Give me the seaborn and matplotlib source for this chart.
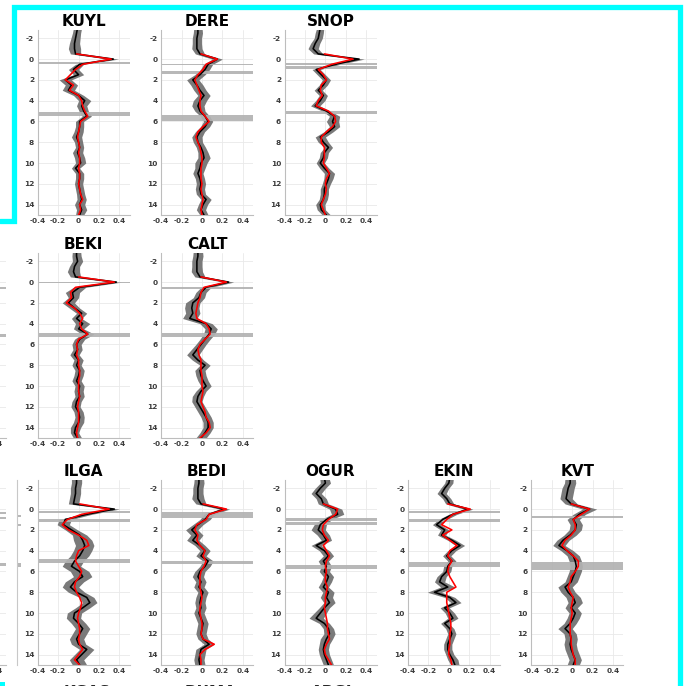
import matplotlib
matplotlib.use("Agg")
import matplotlib.pyplot as plt
import seaborn as sns
from matplotlib.lines import Line2D
from matplotlib.patches import Rectangle

sns.set_theme(style="white")
plt.rcParams["font.family"] = ["DejaVu Sans"]

# depth samples (s) for the stacked traces and for the model traces
DEPTH = [-3.0, -2.5, -2.0, -1.5, -1.0, -0.5, 0.0, 0.5, 1.0, 1.5, 2.0, 2.5,
         3.0, 3.5, 4.0, 4.5, 5.0, 5.5, 6.0, 6.5, 7.0, 7.5, 8.0, 8.5, 9.0,
         9.5, 10.0, 10.5, 11.0, 11.5, 12.0, 12.5, 13.0, 13.5, 14.0, 14.5, 15.0]
MODEL_DEPTH = [-0.5, 0.0, 0.5, 1.0, 1.5, 2.0, 2.5, 3.0, 3.5, 4.0, 4.5, 5.0,
               5.5, 6.0, 6.5, 7.0, 7.5, 8.0, 8.5, 9.0, 9.5, 10.0, 10.5, 11.0,
               11.5, 12.0, 12.5, 13.0, 13.5, 14.0, 14.5, 15.0]

X_TICKS = [-0.4, -0.2, 0.0, 0.2, 0.4]
X_TICK_LABELS = ["-0.4", "-0.2", "0", "0.2", "0.4"]
Y_TICKS = [-2, 0, 2, 4, 6, 8, 10, 12, 14]
Y_TICK_LABELS = ["-2", "0", "2", "4", "6", "8", "10", "12", "14"]

# ---- KUYL
kuyl_mean = [-0.01, -0.02, -0.03, -0.04, -0.04, -0.03, 0.34, 0.01, -0.05, 0.0, -0.13, -0.07,
             -0.10, 0.0, 0.06, 0.03, 0.05, 0.08, 0.01, 0.01, 0.0, -0.02, 0.0, 0.01, -0.01,
             0.01, 0.02, -0.03, 0.01, 0.01, 0.0, 0.01, 0.02, 0.03, 0.01, 0.03, 0.01]
kuyl_std = [0.04, 0.04, 0.045, 0.05, 0.06, 0.05, 0.05, 0.04, 0.05, 0.05, 0.06, 0.06,
            0.06, 0.05, 0.06, 0.05, 0.045, 0.045, 0.04, 0.04, 0.045, 0.05, 0.04, 0.04, 0.05,
            0.05, 0.05, 0.04, 0.04, 0.04, 0.04, 0.04, 0.04, 0.045, 0.05, 0.05, 0.04]
kuyl_model = [-0.02, 0.32, 0.04, -0.03, -0.08, -0.13, -0.05, -0.09, 0.0, 0.03, 0.04, 0.06,
              0.09, 0.02, 0.01, 0.0, -0.01, 0.0, 0.01, 0.0, 0.01, 0.01, 0.0, 0.01,
              0.01, 0.0, 0.01, 0.02, 0.04, 0.01, 0.02, 0.0]
kuyl_layers = [(0.3, 0.5), (5.1, 5.45)]

# ---- DERE
dere_mean = [-0.04, -0.04, -0.05, -0.05, -0.05, -0.02, 0.15, 0.06, 0.03, -0.02, -0.09, -0.05,
             -0.02, 0.02, -0.02, -0.04, -0.02, 0.03, 0.06, 0.03, -0.02, -0.05, -0.04, -0.01, 0.01,
             0.02, -0.01, -0.02, -0.04, -0.02, -0.01, -0.02, -0.01, 0.04, 0.01, -0.01, 0.02]
dere_std = [0.04, 0.045, 0.045, 0.045, 0.05, 0.045, 0.05, 0.045, 0.045, 0.05, 0.06, 0.06,
            0.06, 0.06, 0.065, 0.06, 0.05, 0.045, 0.045, 0.045, 0.045, 0.05, 0.045, 0.045, 0.05,
            0.06, 0.06, 0.05, 0.05, 0.045, 0.045, 0.045, 0.045, 0.05, 0.045, 0.045, 0.04]
dere_model = [-0.01, 0.15, 0.04, 0.01, -0.04, -0.07, -0.05, -0.03, -0.01, -0.02, -0.02, -0.01,
              0.03, 0.07, 0.01, -0.04, -0.06, -0.04, -0.02, -0.01, 0.0, 0.0, -0.01, -0.01,
              -0.01, 0.0, -0.01, 0.0, 0.01, 0.0, -0.01, 0.0]
dere_layers = [(0.45, 0.6), (1.15, 1.45), (5.4, 6.0)]

# ---- SNOP
snop_mean = [-0.05, -0.06, -0.07, -0.10, -0.12, -0.07, 0.33, 0.10, -0.09, -0.04, 0.01, -0.02,
             -0.07, -0.02, -0.05, -0.10, 0.01, 0.09, 0.07, 0.09, 0.03, -0.05, -0.02, 0.03, -0.01,
             -0.02, -0.05, -0.01, 0.04, 0.03, 0.01, -0.01, -0.01, -0.02, -0.05, -0.04, 0.01]
snop_std = [0.035, 0.04, 0.04, 0.045, 0.05, 0.045, 0.05, 0.045, 0.04, 0.04, 0.04, 0.04,
            0.04, 0.04, 0.045, 0.045, 0.04, 0.05, 0.06, 0.05, 0.045, 0.05, 0.05, 0.04, 0.04,
            0.04, 0.04, 0.045, 0.05, 0.045, 0.04, 0.04, 0.04, 0.04, 0.045, 0.04, 0.04]
snop_model = [-0.01, 0.27, 0.06, -0.07, -0.02, 0.01, -0.04, -0.05, -0.03, -0.07, -0.09, 0.03,
              0.09, 0.10, 0.07, 0.01, -0.04, -0.04, -0.01, -0.01, -0.01, -0.02, 0.01, 0.04,
              0.01, 0.0, 0.01, 0.0, -0.02, -0.04, -0.02, 0.0]
snop_layers = [(0.4, 0.6), (0.7, 0.95), (5.0, 5.3)]

# ---- BEKI
beki_mean = [-0.02, -0.02, -0.01, -0.04, -0.05, -0.03, 0.37, 0.01, -0.06, -0.05, -0.10, -0.04,
             0.03, -0.02, 0.04, 0.0, 0.09, 0.01, -0.02, -0.01, -0.04, 0.0, -0.02, 0.01, 0.0,
             -0.02, 0.01, 0.0, 0.01, -0.02, -0.03, 0.0, 0.01, 0.0, -0.03, -0.04, -0.01]
beki_std = [0.04, 0.045, 0.05, 0.05, 0.06, 0.05, 0.05, 0.06, 0.07, 0.05, 0.06, 0.05,
            0.05, 0.05, 0.07, 0.05, 0.06, 0.05, 0.045, 0.045, 0.045, 0.045, 0.045, 0.045, 0.045,
            0.045, 0.045, 0.045, 0.045, 0.045, 0.045, 0.045, 0.045, 0.05, 0.05, 0.04, 0.04]
beki_model = [0.0, 0.35, -0.03, -0.08, -0.07, -0.12, -0.04, 0.01, 0.04, 0.01, 0.03, 0.09,
              0.0, -0.02, -0.01, -0.02, 0.0, 0.0, 0.01, 0.01, 0.0, 0.0, 0.0, 0.01,
              0.0, -0.01, 0.0, 0.0, 0.0, -0.01, -0.02, -0.01]
beki_layers = [(-0.05, 0.12), (4.9, 5.25)]

# ---- CALT
calt_mean = [-0.04, -0.04, -0.05, -0.05, -0.05, -0.02, 0.26, 0.04, -0.01, -0.03, -0.09, -0.10,
             -0.09, -0.12, 0.04, 0.09, 0.07, 0.03, -0.01, -0.05, -0.09, -0.04, 0.03, -0.02, -0.01,
             0.01, 0.04, -0.01, -0.04, -0.05, -0.02, 0.01, 0.04, 0.06, 0.06, 0.03, -0.01]
calt_std = [0.045, 0.05, 0.05, 0.05, 0.055, 0.05, 0.05, 0.05, 0.05, 0.055, 0.07, 0.07,
            0.07, 0.07, 0.06, 0.06, 0.055, 0.05, 0.05, 0.055, 0.06, 0.055, 0.05, 0.05, 0.05,
            0.05, 0.05, 0.05, 0.055, 0.05, 0.05, 0.05, 0.05, 0.05, 0.05, 0.05, 0.05]
calt_model = [-0.01, 0.24, 0.02, -0.01, -0.02, -0.04, -0.05, -0.06, -0.05, 0.04, 0.07, 0.08,
              0.03, -0.02, -0.04, -0.03, -0.01, -0.01, -0.01, 0.0, 0.0, 0.0, 0.01, 0.0,
              -0.01, 0.01, 0.03, 0.04, 0.07, 0.08, 0.04, -0.02]
calt_layers = [(0.45, 0.65), (4.85, 5.3)]

# ---- ILGA
ilga_mean = [-0.02, -0.02, -0.03, -0.03, -0.04, -0.05, 0.35, 0.08, -0.13, -0.15, -0.07, 0.01,
             0.04, 0.06, 0.04, 0.01, -0.04, -0.07, 0.01, 0.04, -0.04, -0.08, -0.02, 0.08, 0.11,
             0.04, -0.04, -0.05, 0.0, 0.04, 0.01, -0.02, 0.0, 0.08, 0.03, -0.02, 0.01]
ilga_std = [0.05, 0.05, 0.05, 0.05, 0.05, 0.05, 0.05, 0.05, 0.06, 0.06, 0.06, 0.07,
            0.09, 0.09, 0.09, 0.09, 0.09, 0.09, 0.09, 0.09, 0.09, 0.08, 0.08, 0.07, 0.07,
            0.07, 0.07, 0.07, 0.07, 0.07, 0.07, 0.07, 0.07, 0.07, 0.07, 0.07, 0.07]
ilga_model = [0.01, 0.30, 0.03, -0.11, -0.16, -0.10, 0.0, 0.08, 0.10, 0.0, -0.02, -0.03,
              0.0, 0.03, 0.01, -0.03, -0.04, -0.02, 0.01, 0.03, 0.02, 0.0, -0.01, 0.0,
              0.01, 0.01, 0.0, 0.01, 0.04, 0.0, -0.04, 0.01]
ilga_layers = [(0.2, 0.4), (1.0, 1.25), (4.8, 5.2)]

# ---- BEDI
bedi_mean = [-0.03, -0.03, -0.04, -0.04, -0.04, -0.01, 0.22, 0.07, 0.03, -0.04, -0.10, -0.05,
             -0.09, -0.02, 0.03, -0.01, 0.06, 0.03, -0.02, -0.04, -0.01, -0.03, 0.01, -0.01, -0.02,
             -0.01, -0.03, -0.01, 0.01, 0.0, -0.01, 0.01, 0.07, -0.01, -0.02, -0.03, -0.02]
bedi_std = [0.045, 0.05, 0.05, 0.05, 0.06, 0.05, 0.05, 0.05, 0.05, 0.05, 0.06, 0.06,
            0.06, 0.05, 0.05, 0.05, 0.05, 0.05, 0.05, 0.055, 0.05, 0.05, 0.05, 0.05, 0.05,
            0.05, 0.05, 0.05, 0.05, 0.05, 0.05, 0.05, 0.05, 0.05, 0.05, 0.05, 0.05]
bedi_model = [0.01, 0.24, 0.07, 0.04, -0.05, -0.07, -0.04, -0.05, -0.02, 0.03, 0.01, 0.04,
              0.02, -0.01, -0.02, -0.02, -0.02, -0.01, 0.0, -0.01, -0.02, -0.02, -0.01, 0.0,
              0.0, -0.01, 0.01, 0.12, 0.03, -0.02, -0.01, -0.01]
bedi_layers = [(0.3, 0.9), (5.0, 5.3)]

# ---- OGUR
ogur_mean = [-0.01, 0.0, -0.05, -0.09, -0.04, -0.02, 0.10, 0.12, 0.01, -0.05, -0.07, -0.02,
             0.01, -0.09, -0.01, 0.03, -0.02, 0.01, -0.01, 0.03, 0.01, -0.02, 0.03, 0.01, 0.04,
             -0.01, -0.05, -0.09, -0.01, 0.03, 0.04, 0.01, -0.01, -0.02, -0.01, 0.01, 0.03]
ogur_std = [0.045, 0.05, 0.05, 0.05, 0.05, 0.05, 0.06, 0.06, 0.05, 0.06, 0.07, 0.06,
            0.05, 0.05, 0.05, 0.05, 0.05, 0.05, 0.05, 0.05, 0.05, 0.05, 0.055, 0.06, 0.055,
            0.05, 0.06, 0.07, 0.05, 0.05, 0.055, 0.06, 0.05, 0.05, 0.05, 0.05, 0.05]
ogur_model = [-0.02, 0.12, 0.10, 0.03, -0.02, -0.03, -0.01, 0.03, -0.02, 0.01, 0.04, 0.01,
              0.0, 0.01, 0.0, 0.0, 0.02, 0.01, 0.0, 0.0, -0.01, 0.0, 0.01, 0.02,
              0.02, 0.03, 0.04, 0.01, -0.01, 0.0, 0.03, 0.06]
ogur_layers = [(0.9, 1.15), (1.25, 1.5), (5.4, 5.8)]

# ---- EKIN
ekin_mean = [0.01, 0.0, -0.04, -0.07, -0.02, 0.01, 0.19, 0.04, -0.06, -0.12, -0.04, -0.07,
             0.03, 0.11, 0.03, -0.02, 0.03, -0.01, -0.02, -0.07, -0.09, -0.01, -0.14, 0.01, 0.07,
             -0.04, 0.01, 0.04, -0.04, 0.01, 0.03, 0.01, -0.01, -0.01, 0.01, 0.04, 0.06]
ekin_std = [0.035, 0.04, 0.04, 0.045, 0.04, 0.04, 0.045, 0.04, 0.04, 0.04, 0.04, 0.04,
            0.04, 0.045, 0.04, 0.04, 0.04, 0.04, 0.04, 0.045, 0.05, 0.07, 0.07, 0.05, 0.05,
            0.045, 0.045, 0.05, 0.04, 0.04, 0.04, 0.04, 0.04, 0.04, 0.04, 0.05, 0.04]
ekin_model = [-0.01, 0.21, 0.04, -0.02, -0.07, 0.03, -0.06, 0.01, 0.08, 0.01, -0.01, 0.03,
              0.0, -0.01, 0.01, 0.04, 0.07, -0.02, -0.02, -0.02, -0.01, 0.0, 0.01, 0.02,
              0.02, 0.01, 0.01, 0.01, 0.0, 0.0, 0.02, 0.03]
ekin_layers = [(0.2, 0.4), (1.0, 1.25), (5.1, 5.6)]

# ---- KVT
kvt_mean = [-0.02, -0.02, -0.04, -0.05, -0.06, -0.01, 0.17, 0.07, 0.01, 0.04, 0.03, -0.02,
            -0.09, -0.13, -0.05, 0.01, 0.03, 0.04, 0.03, 0.01, -0.01, -0.07, -0.04, 0.01, 0.03,
            -0.01, 0.03, 0.01, -0.02, -0.07, -0.02, -0.01, -0.02, -0.01, 0.01, 0.03, 0.01]
kvt_std = [0.05, 0.055, 0.06, 0.06, 0.06, 0.06, 0.07, 0.06, 0.06, 0.06, 0.06, 0.06,
           0.06, 0.06, 0.06, 0.06, 0.06, 0.06, 0.06, 0.06, 0.06, 0.07, 0.07, 0.07, 0.07,
           0.06, 0.06, 0.06, 0.06, 0.07, 0.06, 0.06, 0.06, 0.06, 0.06, 0.06, 0.06]
kvt_model = [-0.01, 0.17, 0.09, 0.01, 0.03, 0.03, -0.01, -0.07, -0.10, -0.05, 0.01, 0.06,
             0.06, 0.03, -0.01, -0.02, -0.04, -0.02, 0.01, 0.0, -0.01, 0.0, -0.01, -0.02,
             -0.02, -0.02, -0.01, -0.01, 0.0, 0.01, 0.03, 0.03]
kvt_layers = [(0.65, 0.9), (5.1, 5.85)]

# neighbouring panels that are only partly in view (layer bands only)
left2_layers = [(0.45, 0.65), (5.0, 5.25)]
left3_layers = [(0.25, 0.45), (0.8, 1.0), (5.2, 5.5)]
strip3_layers = [(0.55, 0.75), (1.4, 1.6), (5.2, 5.6)]
row4_titles = ["KGAS", "DUMA", "ABGL"]

# station name -> (row, column, data)
PANELS = [
    ("KUYL", 0, 0, kuyl_mean, kuyl_std, kuyl_model, kuyl_layers),
    ("DERE", 0, 1, dere_mean, dere_std, dere_model, dere_layers),
    ("SNOP", 0, 2, snop_mean, snop_std, snop_model, snop_layers),
    ("BEKI", 1, 0, beki_mean, beki_std, beki_model, beki_layers),
    ("CALT", 1, 1, calt_mean, calt_std, calt_model, calt_layers),
    ("ILGA", 2, 0, ilga_mean, ilga_std, ilga_model, ilga_layers),
    ("BEDI", 2, 1, bedi_mean, bedi_std, bedi_model, bedi_layers),
    ("OGUR", 2, 2, ogur_mean, ogur_std, ogur_model, ogur_layers),
    ("EKIN", 2, 3, ekin_mean, ekin_std, ekin_model, ekin_layers),
    ("KVT", 2, 4, kvt_mean, kvt_std, kvt_model, kvt_layers),
]

W, H = 684, 686
fig = plt.figure(figsize=(W / 100, H / 100), dpi=100)

COL_LEFT = 37.7
COL_STEP = 123.4
ROW_TOP = [30, 253, 480]
AX_W, AX_H = 92, 185


def px_axes(left, top, w, h):
    return fig.add_axes([left / W, 1 - (top + h) / H, w / W, h / H])


def style_axes(ax):
    ax.set_xlim(-0.4, 0.5)
    ax.set_ylim(15, -2.8)
    ax.set_xticks(X_TICKS)
    ax.set_xticklabels(X_TICK_LABELS)
    ax.set_yticks(Y_TICKS)
    ax.set_yticklabels(Y_TICK_LABELS)
    ax.tick_params(length=0, labelsize=5.3, colors="#3c3c3c", pad=2.5)
    for lab in ax.get_xticklabels() + ax.get_yticklabels():
        lab.set_fontweight("bold")
    ax.grid(True, color="#e9e9e9", lw=0.6)
    ax.set_axisbelow(True)
    for side in ("top", "right"):
        ax.spines[side].set_visible(False)
    for side in ("left", "bottom"):
        ax.spines[side].set_color("#bdbdbd")
        ax.spines[side].set_linewidth(0.8)
    ax.set_xlabel("")
    ax.set_ylabel("")
    ax.set_facecolor("white")


def draw_layers(ax, layers):
    for top, bottom in layers:
        ax.axhspan(top, bottom, color="#b2b2b2", alpha=0.92, lw=0, zorder=2)


for name, r, c, mean, std, model, layers in PANELS:
    ax = px_axes(COL_LEFT + COL_STEP * c, ROW_TOP[r], AX_W, AX_H)
    lower = [m - s for m, s in zip(mean, std)]
    upper = [m + s for m, s in zip(mean, std)]
    ax.fill_betweenx(DEPTH, lower, upper, color="#7a7a7a", lw=0, zorder=1)
    draw_layers(ax, layers)
    sns.lineplot(x=mean, y=DEPTH, orient="y", sort=False, estimator=None,
                 color="black", lw=1.15, ax=ax, zorder=3)
    sns.lineplot(x=model, y=MODEL_DEPTH, orient="y", sort=False, estimator=None,
                 color="#ff0000", lw=1.15, ax=ax, zorder=4)
    style_axes(ax)
    ax.set_title(name, fontsize=11, fontweight="bold", pad=3, color="black")

# partly visible panels on the left edge
for r, layers in ((1, left2_layers), (2, left3_layers)):
    ax = px_axes(COL_LEFT - COL_STEP, ROW_TOP[r], AX_W, AX_H)
    draw_layers(ax, layers)
    style_axes(ax)

# narrow strip next to the bottom-left panel
strip = px_axes(17, ROW_TOP[2], 4, AX_H)
strip.set_xlim(0, 1)
strip.set_ylim(15, -2.8)
for top, bottom in strip3_layers:
    strip.axhspan(top, bottom, color="#b8b8b8", lw=0)
strip.set_xticks([])
strip.set_yticks(Y_TICKS)
strip.set_yticklabels([])
strip.tick_params(axis="y", direction="in", length=2, color="#c8c8c8")
for side in ("top", "right", "bottom"):
    strip.spines[side].set_visible(False)
strip.spines["left"].set_color("#c8c8c8")
strip.spines["left"].set_linewidth(0.8)

# titles of the next row, running off the bottom edge
for c, name in enumerate(row4_titles):
    fig.text((COL_LEFT + COL_STEP * c + AX_W / 2 + 3) / W, 1 - 697 / H, name,
             fontsize=11, fontweight="bold", ha="center", va="baseline")

# cyan highlight outline
cyan = "#00ffff"
outline = [(0, 221), (14, 221), (14, 6.5), (680, 6.5), (680, 690)]
fig.add_artist(Line2D([p[0] / W for p in outline], [1 - p[1] / H for p in outline],
                      transform=fig.transFigure, color=cyan, lw=3.8,
                      solid_joinstyle="miter"))
fig.add_artist(Rectangle((0, 0), 5 / W, 4 / H, transform=fig.transFigure,
                         color=cyan, lw=0))

fig.savefig("out.png", dpi=100)
